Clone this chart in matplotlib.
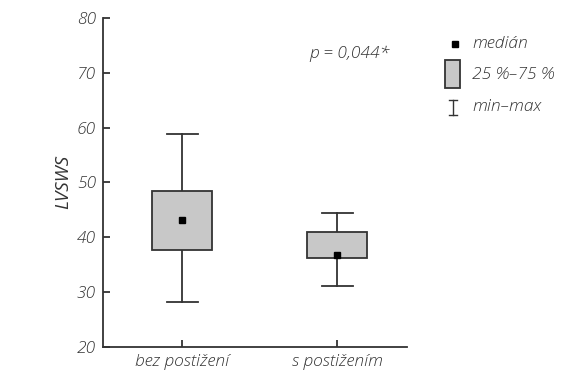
import matplotlib.pyplot as plt
from matplotlib.patches import Rectangle
from matplotlib.lines import Line2D

groups = ['bez postižení', 's postižením']
mins = [28.2, 31.1]
q1 = [37.6, 36.1]
medians = [43.1, 36.7]
q3 = [48.5, 40.9]
maxs = [58.8, 44.4]

plt.rcParams['font.family'] = ['Open Sans', 'DejaVu Sans']
plt.rcParams['font.style'] = 'italic'
plt.rcParams['font.weight'] = 'light'

ink = '#333333'
fill = '#c8c8c8'
fs = 12.5

fig = plt.figure(figsize=(5.62, 3.76), dpi=100)
ax = fig.add_axes([0.1833, 0.078, 0.5409, 0.874])

pos = [1, 2]
box_w = 0.39
cap_w = 0.2
for x, lo, a, m, b, hi in zip(pos, mins, q1, medians, q3, maxs):
    ax.plot([x, x], [lo, a], color=ink, lw=1.3, zorder=1)
    ax.plot([x, x], [b, hi], color=ink, lw=1.3, zorder=1)
    ax.plot([x - cap_w / 2, x + cap_w / 2], [lo, lo], color=ink, lw=1.3)
    ax.plot([x - cap_w / 2, x + cap_w / 2], [hi, hi], color=ink, lw=1.3)
    ax.add_patch(Rectangle((x - box_w / 2, a), box_w, b - a, facecolor=fill,
                           edgecolor=ink, lw=1.3, zorder=2))
    ax.plot(x, m, 's', color='black', ms=4.5, zorder=3)

ax.set_xlim(0.49, 2.45)
ax.set_ylim(20, 80)
ax.set_yticks(range(20, 81, 10))
ax.set_xticks(pos)
ax.set_xticklabels(groups)
ax.spines['top'].set_visible(False)
ax.spines['right'].set_visible(False)
for s in ['left', 'bottom']:
    ax.spines[s].set_color(ink)
    ax.spines[s].set_linewidth(1.3)
ax.tick_params(direction='in', length=5, width=1.3, color=ink,
               labelsize=fs, labelcolor=ink, pad=5)
ax.set_ylabel('LVSWS', fontsize=13.5, color=ink, labelpad=3)

ax.text(1.82, 73.5, 'p = 0,044*', fontsize=fs, color=ink, ha='left', va='center')

# legend drawn in figure coords
def fx(px):
    return px / 562


def fy(py):
    return 1 - py / 376


fig.lines.append(Line2D([fx(455)], [fy(44)], marker='s', ms=4.5, color='black',
                        transform=fig.transFigure, figure=fig))
fig.text(fx(472), fy(44), 'medián', fontsize=fs, color=ink, va='center')
fig.patches.append(Rectangle((fx(445), fy(88)), 15 / 562, 28 / 376,
                             facecolor=fill, edgecolor=ink, lw=1.3,
                             transform=fig.transFigure, figure=fig))
fig.text(fx(472), fy(75), '25 %–75 %', fontsize=fs, color=ink, va='center')
for xs, ys in [([453, 453], [100, 115]), ([449, 457], [100, 100]),
               ([449, 457], [115, 115])]:
    fig.lines.append(Line2D([fx(v) for v in xs], [fy(v) for v in ys], lw=1,
                            color=ink, transform=fig.transFigure, figure=fig))
fig.text(fx(472), fy(107), 'min–max', fontsize=fs, color=ink, va='center')

fig.savefig('out.png', dpi=100)
